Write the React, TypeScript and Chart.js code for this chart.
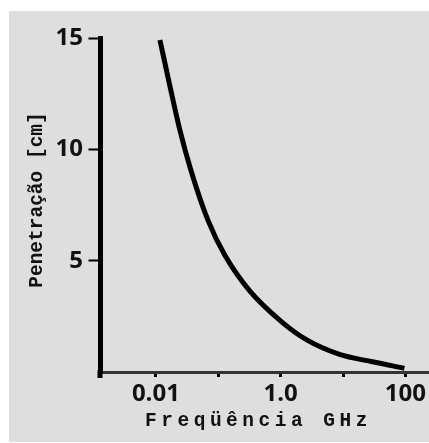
import React, { useEffect, useRef } from "react";
import { Chart, registerables } from "chart.js";

Chart.register(...registerables);

// Frequency (GHz)
const frequencyGHz = [0.0116, 0.01675, 0.0242, 0.0363, 0.0679, 0.127, 0.319, 1.038, 2.58, 8.79, 29.6, 96.4];
// Penetration depth (cm)
const penetrationCm = [14.91, 12.85, 10.87, 9.07, 6.83, 5.25, 3.64, 2.25, 1.45, 0.79, 0.46, 0.17];

const xTickValues = [0.01, 0.1, 1, 10, 100];
const xTickLabels = ["0.01", "", "1.0", "", "100"];
const yTickValues = [5, 10, 15];
const yTickLabels = ["5", "10", "15"];

const xTitle = "Freqüência GHz";
const yTitle = "Penetração [cm]";

const decorPlugin = {
  id: "decor",
  afterDraw(chart: any) {
    const { ctx, chartArea } = chart;
    ctx.save();
    // y-axis runs slightly below the x-axis
    ctx.strokeStyle = "#000";
    ctx.lineWidth = 5;
    ctx.beginPath();
    ctx.moveTo(chartArea.left, chartArea.bottom - 2);
    ctx.lineTo(chartArea.left, chartArea.bottom + 6);
    ctx.stroke();

    ctx.fillStyle = "#111";
    ctx.font = 'bold 19.5px "Liberation Mono", "Courier New", monospace';
    ctx.textAlign = "center";
    ctx.textBaseline = "alphabetic";
    // x title
    ctx.letterSpacing = "4.5px";
    ctx.fillText(xTitle, 249.5, 414.5);
    // y title
    ctx.letterSpacing = "0px";
    ctx.translate(32.5, 189);
    ctx.rotate(-Math.PI / 2);
    ctx.fillText(yTitle, 0, 0);
    ctx.restore();
  },
};

export default function App() {
  const canvasRef = useRef<HTMLCanvasElement | null>(null);

  useEffect(() => {
    if (!canvasRef.current) return;
    const points = frequencyGHz.map((f, i) => ({ x: f, y: penetrationCm[i] }));
    const tickFont = { family: '"Open Sans", "Liberation Sans", sans-serif', size: 24, weight: "bold" as const };
    const chart = new Chart(canvasRef.current, {
      type: "line",
      data: {
        datasets: [
          {
            data: points,
            borderColor: "#000",
            borderWidth: 5,
            pointRadius: 0,
            cubicInterpolationMode: "monotone",
            borderCapStyle: "butt",
            fill: false,
          },
        ],
      },
      options: {
        animation: false,
        responsive: false,
        devicePixelRatio: 1,
        layout: { padding: { top: 27, left: 0, right: 0, bottom: 0 } },
        plugins: { legend: { display: false }, tooltip: { enabled: false }, title: { display: false } },
        scales: {
          x: {
            type: "logarithmic",
            position: "bottom",
            min: 0.00127,
            max: 233.4,
            bounds: "data",
            afterBuildTicks: (scale: any) => {
              scale.ticks = xTickValues.map((v) => ({ value: v }));
            },
            afterFit: (scale: any) => {
              scale.height = 70;
            },
            grid: { drawOnChartArea: false, drawTicks: true, tickLength: 5, tickWidth: 3, tickColor: "#000" },
            border: { display: true, width: 3, color: "#333" },
            ticks: {
              autoSkip: false,
              maxRotation: 0,
              minRotation: 0,
              padding: 3,
              color: "#111",
              font: tickFont,
              callback: (value: any) => {
                const idx = xTickValues.findIndex((v) => Math.abs(v - Number(value)) < v * 1e-6);
                return idx >= 0 ? xTickLabels[idx] : "";
              },
            },
            title: { display: false },
          },
          y: {
            type: "linear",
            position: "left",
            min: 0,
            max: 15,
            afterBuildTicks: (scale: any) => {
              scale.ticks = yTickValues.map((v) => ({ value: v }));
            },
            afterFit: (scale: any) => {
              scale.width = 91;
            },
            grid: { drawOnChartArea: false, drawTicks: true, tickLength: 11.5, tickWidth: 2, tickColor: "#000" },
            border: { display: true, width: 5, color: "#000" },
            ticks: {
              autoSkip: false,
              padding: 5.5,
              color: "#111",
              font: tickFont,
              callback: (value: any) => {
                const idx = yTickValues.indexOf(Number(value));
                return idx >= 0 ? yTickLabels[idx] : "";
              },
            },
            title: { display: false },
          },
        },
      },
      plugins: [decorPlugin],
    });
    return () => chart.destroy();
  }, []);

  return (
    <div
      style={{
        position: "absolute",
        left: 9,
        top: 11,
        width: 420,
        height: 431,
        background: "#dedede",
      }}
    >
      <canvas ref={canvasRef} width={420} height={431} style={{ display: "block", width: 420, height: 431 }} />
    </div>
  );
}
